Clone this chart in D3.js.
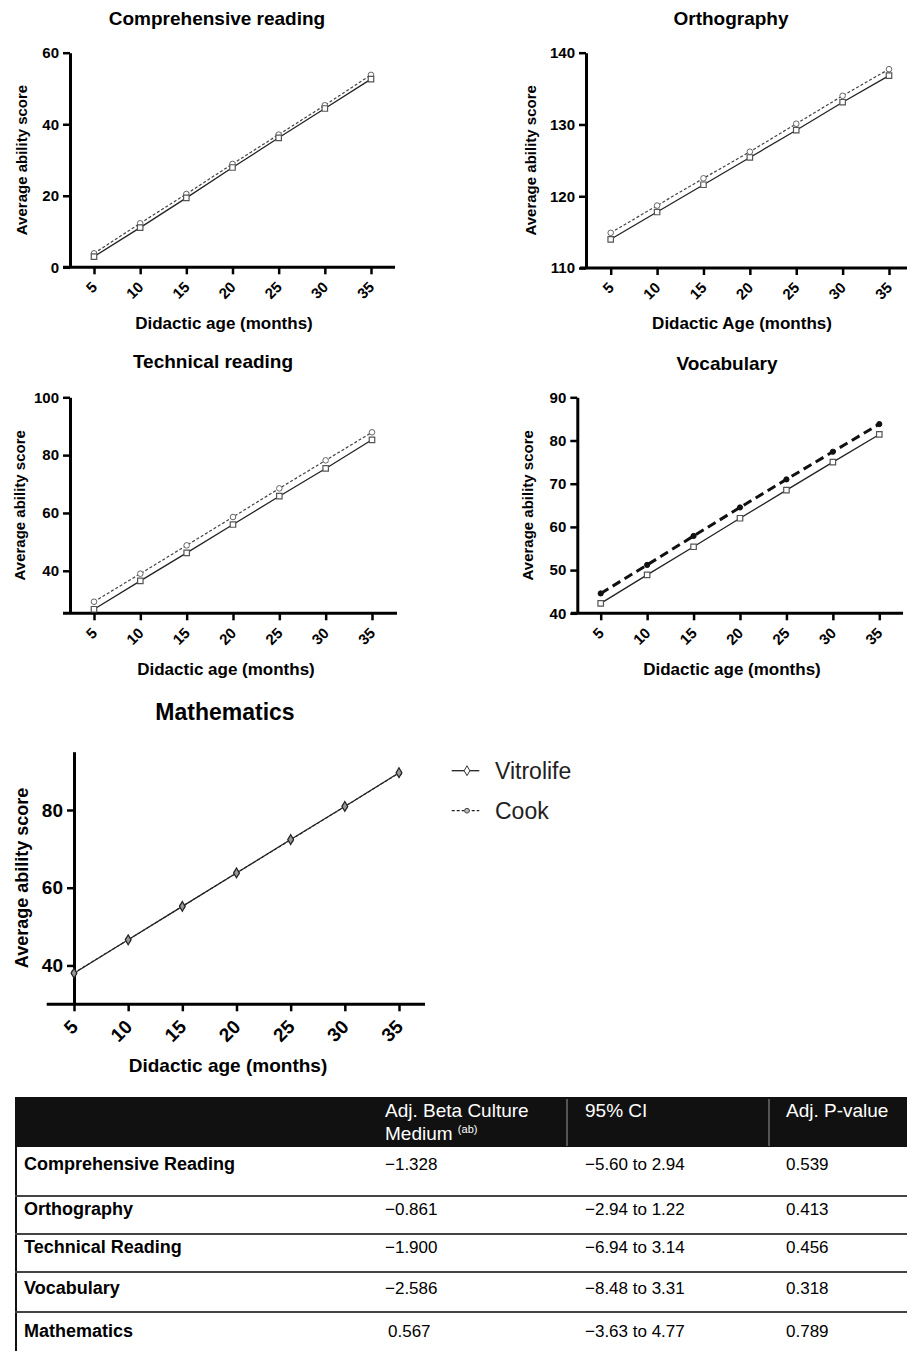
<!DOCTYPE html>
<html>
<head>
<meta charset="utf-8">
<script src="https://cdn.jsdelivr.net/npm/d3@7"></script>
<style>
  body { margin: 0; background: #fff; }
  svg { display: block; font-family: "Liberation Sans", Arial, sans-serif; }
</style>
</head>
<body>
<div id="chart"></div>
<script>
// ages on the x axis, shared by every panel
var ages = [5, 10, 15, 20, 25, 30, 35];

// Comprehensive reading
var compVitrolife = [3.0, 11.1, 19.4, 27.9, 36.2, 44.4, 52.6];
var compCook = [3.9, 12.3, 20.5, 28.9, 37.1, 45.3, 53.8];
var compTicks = [0, 20, 40, 60];

// Orthography
var orthoVitrolife = [114.0, 117.8, 121.6, 125.4, 129.2, 133.1, 136.8];
var orthoCook = [114.9, 118.7, 122.5, 126.2, 130.1, 134.0, 137.7];
var orthoTicks = [110, 120, 130, 140];

// Technical reading
var techVitrolife = [26.7, 36.5, 46.2, 56.0, 65.8, 75.4, 85.3];
var techCook = [29.3, 39.0, 48.8, 58.6, 68.5, 78.2, 87.9];
var techTicks = [40, 60, 80, 100];

// Vocabulary
var vocabVitrolife = [42.3, 48.9, 55.4, 62.0, 68.5, 75.0, 81.4];
var vocabCook = [44.6, 51.2, 57.9, 64.5, 71.0, 77.4, 83.8];
var vocabTicks = [40, 50, 60, 70, 80, 90];

// Mathematics
var mathVitrolife = [38.0, 46.6, 55.2, 63.8, 72.4, 80.9, 89.6];
var mathCook = [38.1, 46.6, 55.2, 63.8, 72.3, 80.9, 89.5];
var mathTicks = [40, 60, 80];

var seriesNames = ["Vitrolife", "Cook"];

// table
var tableHeader = ["Adj. Beta Culture", "95% CI", "Adj. P-value"];
var tableRows = ["Comprehensive Reading", "Orthography", "Technical Reading", "Vocabulary", "Mathematics"];
var tableBetas = ["\u22121.328", "\u22120.861", "\u22121.900", "\u22122.586", "0.567"];
var tableCIs = ["\u22125.60 to 2.94", "\u22122.94 to 1.22", "\u22126.94 to 3.14", "\u22128.48 to 3.31", "\u22123.63 to 4.77"];
var tablePs = ["0.539", "0.413", "0.456", "0.318", "0.789"];

var width = 907, height = 1351;
var svg = d3.select("#chart").append("svg")
    .attr("width", width)
    .attr("height", height);

var panels = [
    {title: "Comprehensive reading", xLabel: "Didactic age (months)", vit: compVitrolife, cook: compCook,
     ticks: compTicks, yDomain: [0, 60], axisX: 70, x5: 94, x35: 371, lineL: 63, lineR: 395,
     top: 52.7, bottom: 267.3, titleX: 217, titleY: 25, xLabelX: 224, xLabelY: 329, yLabelX: 27,
     font: 15, titleFont: 19, style: "normal"},
    {title: "Orthography", xLabel: "Didactic Age (months)", vit: orthoVitrolife, cook: orthoCook,
     ticks: orthoTicks, yDomain: [110, 140], axisX: 586, x5: 610.7, x35: 889, lineL: 580, lineR: 915,
     top: 52.7, bottom: 268, titleX: 731, titleY: 25, xLabelX: 742, xLabelY: 329, yLabelX: 536,
     font: 15, titleFont: 19, style: "normal"},
    {title: "Technical reading", xLabel: "Didactic age (months)", vit: techVitrolife, cook: techCook,
     ticks: techTicks, yDomain: [25.3, 100], axisX: 70, x5: 94, x35: 372, lineL: 63, lineR: 397,
     top: 397.3, bottom: 613.3, titleX: 213, titleY: 368, xLabelX: 226, xLabelY: 675, yLabelX: 25,
     font: 15, titleFont: 19, style: "normal"},
    {title: "Vocabulary", xLabel: "Didactic age (months)", vit: vocabVitrolife, cook: vocabCook,
     ticks: vocabTicks, yDomain: [40, 90], axisX: 577.3, x5: 600.7, x35: 879.3, lineL: 571, lineR: 903,
     top: 397.3, bottom: 613.3, titleX: 727, titleY: 370, xLabelX: 732, xLabelY: 675, yLabelX: 533,
     font: 15, titleFont: 19, style: "bold"},
    {title: "Mathematics", xLabel: "Didactic age (months)", vit: mathVitrolife, cook: mathCook,
     ticks: mathTicks, yDomain: [30, 95], axisX: 74, x5: 74, x35: 399, lineL: 46.7, lineR: 425,
     top: 751.7, bottom: 1004.3, titleX: 225, titleY: 720, xLabelX: 228, xLabelY: 1072, yLabelX: 28,
     font: 19, titleFont: 23, style: "math"}
];

function drawPanel(p) {
    var g = svg.append("g");

    var x = d3.scaleLinear().domain([5, 35]).range([p.x5, p.x35]),
        y = d3.scaleLinear().domain(p.yDomain).range([p.bottom, p.top]);

    // title
    g.append("text")
        .attr("x", p.titleX).attr("y", p.titleY)
        .attr("text-anchor", "middle")
        .style("font-weight", "bold")
        .style("font-size", p.titleFont + "px")
        .text(p.title);

    // y axis
    var ya = g.append("g")
        .attr("transform", "translate(" + p.axisX + ",0)")
        .call(d3.axisLeft(y).tickValues(p.ticks).tickSize(7).tickSizeOuter(0).tickPadding(4));
    ya.select(".domain").attr("stroke-width", 3);
    ya.selectAll(".tick line").attr("stroke-width", 2.5);
    ya.selectAll(".tick text")
        .style("font-size", p.font + "px")
        .style("font-weight", "bold")
        .style("font-family", "Liberation Sans, Arial, sans-serif");

    // x axis
    var xa = g.append("g")
        .attr("transform", "translate(0," + p.bottom + ")")
        .call(d3.axisBottom(x).tickValues(ages).tickSize(7).tickSizeOuter(0));
    xa.select(".domain")
        .attr("d", "M" + p.lineL + ",0H" + p.lineR)
        .attr("stroke-width", 3);
    xa.selectAll(".tick line").attr("stroke-width", 2.5);
    xa.selectAll(".tick text")
        .attr("y", null).attr("dy", "0.35em")
        .attr("transform", "translate(0," + (p.style === "math" ? 19 : 17) + ") rotate(-45)")
        .attr("text-anchor", "end")
        .style("font-size", p.font + "px")
        .style("font-weight", "bold")
        .style("font-family", "Liberation Sans, Arial, sans-serif");

    // axis labels
    g.append("text")
        .attr("transform", "translate(" + p.yLabelX + "," + ((p.top + p.bottom) / 2) + ") rotate(-90)")
        .attr("text-anchor", "middle")
        .style("font-weight", "bold")
        .style("font-size", (p.style === "math" ? 18 : 15) + "px")
        .text("Average ability score");
    g.append("text")
        .attr("x", p.xLabelX).attr("y", p.xLabelY)
        .attr("text-anchor", "middle")
        .style("font-weight", "bold")
        .style("font-size", (p.style === "math" ? 19 : 17) + "px")
        .text(p.xLabel);

    var line = d3.line()
        .x(function (d, i) { return x(ages[i]); })
        .y(function (d) { return y(d); });

    // Cook (dashed)
    var cookPath = g.append("path")
        .datum(p.cook)
        .attr("fill", "none")
        .attr("d", line);
    if (p.style === "bold") {
        cookPath.attr("stroke", "#111").attr("stroke-width", 3).attr("stroke-dasharray", "9,5");
    } else {
        cookPath.attr("stroke", "#444").attr("stroke-width", 1.2).attr("stroke-dasharray", "3,2");
    }

    // Vitrolife (solid)
    g.append("path")
        .datum(p.vit)
        .attr("fill", "none")
        .attr("stroke", "#222")
        .attr("stroke-width", 1.3)
        .attr("d", line);

    // Cook markers
    g.selectAll(".cook-pt")
        .data(p.cook)
        .enter().append("circle")
        .attr("class", "cook-pt")
        .attr("cx", function (d, i) { return x(ages[i]); })
        .attr("cy", function (d) { return y(d); })
        .attr("r", p.style === "bold" ? 2.6 : 2.8)
        .attr("fill", p.style === "bold" ? "#111" : "#fff")
        .attr("stroke", p.style === "bold" ? "#111" : "#666")
        .attr("stroke-width", 1);

    // Vitrolife markers
    var sym = d3.symbol()
        .type(p.style === "math" ? d3.symbolDiamond : d3.symbolSquare)
        .size(p.style === "math" ? 28 : 30);
    g.selectAll(".vit-pt")
        .data(p.vit)
        .enter().append("path")
        .attr("class", "vit-pt")
        .attr("transform", function (d, i) { return "translate(" + x(ages[i]) + "," + y(d) + ")"; })
        .attr("d", sym)
        .attr("fill", p.style === "math" ? "#999" : "#fff")
        .attr("stroke", p.style === "math" ? "#222" : "#555")
        .attr("stroke-width", 1.2);
}

panels.forEach(drawPanel);

// Legend for the mathematics panel
var legend = svg.append("g");
var legendY = [770.7, 810.7];
seriesNames.forEach(function (name, i) {
    var ly = legendY[i];
    legend.append("line")
        .attr("x1", 451.7).attr("x2", 479.3)
        .attr("y1", ly).attr("y2", ly)
        .attr("stroke", "#222")
        .attr("stroke-width", 1.3)
        .attr("stroke-dasharray", i === 1 ? "3,2" : null);
    if (i === 0) {
        legend.append("path")
            .attr("transform", "translate(467," + ly + ")")
            .attr("d", d3.symbol().type(d3.symbolDiamond).size(28))
            .attr("fill", "#fff").attr("stroke", "#333");
    } else {
        legend.append("circle")
            .attr("cx", 467).attr("cy", ly).attr("r", 2.4)
            .attr("fill", "#bbb").attr("stroke", "#444");
    }
    legend.append("text")
        .attr("x", 495).attr("y", ly + 8.5)
        .style("font-size", "23px")
        .style("fill", "#222")
        .text(name);
});

// Table
var table = svg.append("g");
var colX = [24, 385, 585, 786];
table.append("rect")
    .attr("x", 15).attr("y", 1097)
    .attr("width", width - 15).attr("height", 50)
    .attr("fill", "#111");
[567, 769].forEach(function (sx) {
    table.append("line")
        .attr("x1", sx).attr("x2", sx)
        .attr("y1", 1099).attr("y2", 1146)
        .attr("stroke", "#999").attr("stroke-width", 1);
});
table.append("text")
    .attr("x", colX[1]).attr("y", 1117)
    .attr("fill", "#fff").style("font-size", "19px")
    .text(tableHeader[0]);
var medium = table.append("text")
    .attr("x", colX[1]).attr("y", 1140)
    .attr("fill", "#fff").style("font-size", "19px");
medium.append("tspan").text("Medium ");
medium.append("tspan").attr("dy", -7).style("font-size", "11px").text("(ab)");
table.append("text")
    .attr("x", colX[2]).attr("y", 1117)
    .attr("fill", "#fff").style("font-size", "19px")
    .text(tableHeader[1]);
table.append("text")
    .attr("x", colX[3]).attr("y", 1117)
    .attr("fill", "#fff").style("font-size", "19px")
    .text(tableHeader[2]);

// left border
table.append("line")
    .attr("x1", 16).attr("x2", 16)
    .attr("y1", 1147).attr("y2", height)
    .attr("stroke", "#111").attr("stroke-width", 2);

var rowY = [1163, 1208, 1246, 1287, 1330];
var sepY = [1196, 1234, 1272, 1312];
sepY.forEach(function (sy) {
    table.append("line")
        .attr("x1", 15).attr("x2", width)
        .attr("y1", sy).attr("y2", sy)
        .attr("stroke", "#444").attr("stroke-width", 2);
});
tableRows.forEach(function (name, i) {
    var by = rowY[i] + 6.5;
    table.append("text")
        .attr("x", colX[0]).attr("y", by)
        .style("font-weight", "bold").style("font-size", "18px")
        .text(name);
    table.append("text")
        .attr("x", colX[1] + (tableBetas[i].charAt(0) === "\u2212" ? 0 : 3)).attr("y", by)
        .style("font-size", "17px")
        .text(tableBetas[i]);
    table.append("text")
        .attr("x", colX[2]).attr("y", by)
        .style("font-size", "17px")
        .text(tableCIs[i]);
    table.append("text")
        .attr("x", colX[3]).attr("y", by)
        .style("font-size", "17px")
        .text(tablePs[i]);
});
</script>
</body>
</html>
